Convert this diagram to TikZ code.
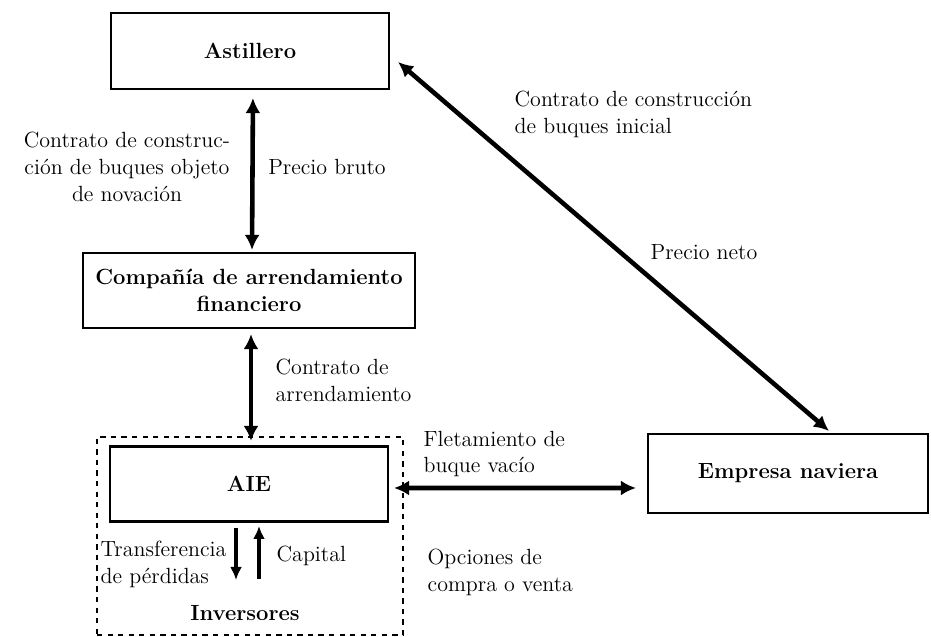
\documentclass[tikz,border=0pt]{standalone}
\usepackage{fontspec}
\usetikzlibrary{arrows.meta}

\tikzset{
    party/.style={draw, line width=1.2pt, font=\fontsize{12.5}{15.3}\selectfont\bfseries, align=center, inner sep=0pt},
    lbl/.style={font=\fontsize{12.5}{15.3}\selectfont, inner sep=0pt},
    twoway/.style={{Latex[length=0.3cm,width=0.3cm]}-{Latex[length=0.3cm,width=0.3cm]}, line width=2.6pt},
    oneway/.style={-{Latex[length=0.26cm,width=0.24cm]}, line width=2.1pt}
}

\begin{document}
\begin{tikzpicture}[style=thick, every node/.style={font=\fontsize{12.5}{15.3}\selectfont}]
        \useasboundingbox (0cm,0cm) rectangle (18.62cm,12.74cm);

        % parties
        \node[party, minimum width=5.56cm, minimum height=1.52cm] (ast) at (5cm,11.72cm) {Astillero};
        \node[party, minimum width=6.64cm, minimum height=1.5cm] (comp) at (4.98cm,6.93cm) {Compañía de arrendamiento\\financiero};
        \node[draw, dashed, line width=1.1pt, minimum width=6.12cm, minimum height=3.96cm] (inv) at (5cm,2.02cm) {};
        \node[party, minimum width=5.56cm, minimum height=1.5cm] (aie) at (4.98cm,3.06cm) {AIE};
        \node[party, minimum width=5.6cm, minimum height=1.58cm] (emp) at (15.76cm,3.27cm) {Empresa naviera};
        \node[font=\fontsize{12.5}{15.3}\selectfont\bfseries] (invname) at (4.9cm,0.48cm) {Inversores};

        % flows
        \draw[twoway, shorten <=0.16cm, shorten >=0.04cm] ([xshift=0.06cm]ast.south) -- ([xshift=0.06cm]comp.north);
        \draw[twoway, shorten <=0.1cm, shorten >=0.09cm] ([xshift=0.04cm]comp.south) -- ([xshift=0.04cm]aie.north);
        \draw[twoway] ([shift={(0.16cm,-0.22cm)}]ast.east) -- ([shift={(0.82cm,0.04cm)}]emp.north);
        \draw[twoway] ([shift={(0.1cm,-0.08cm)}]aie.east) -- ([shift={(-0.22cm,-0.29cm)}]emp.west);

        \coordinate (lossA) at (4.72cm,2.18cm);
        \coordinate (lossB) at (4.72cm,1.14cm);
        \coordinate (capA) at (5.18cm,1.16cm);
        \coordinate (capB) at (5.18cm,2.22cm);
        \draw[oneway] (lossA) -- (lossB);
        \draw[oneway] (capA) -- (capB);

        % labels
        \node[lbl, align=center] (novlbl) at (2.54cm,9.4cm) {Contrato de construc-\\ción de buques objeto\\de novación};
        \node[lbl] (brutolbl) at (6.54cm,9.4cm) {Precio bruto};
        \node[lbl, anchor=west, align=left] (arrlbl) at (5.5cm,5.14cm) {Contrato de\\arrendamiento};
        \node[lbl, anchor=west, align=left] (inilbl) at (10.28cm,10.46cm) {Contrato de construcción\\de buques inicial};
        \node[lbl, anchor=west] (netolbl) at (13cm,7.7cm) {Precio neto};
        \node[lbl, anchor=west, align=left] (fletlbl) at (8.46cm,3.66cm) {Fletamiento de\\buque vacío};
        \node[lbl, anchor=west, align=left] (opclbl) at (8.54cm,1.3cm) {Opciones de\\compra o venta};
        \node[lbl, anchor=west, align=left] (trflbl) at (2cm,1.46cm) {Transferencia\\de pérdidas};
        \node[lbl, anchor=west] (caplbl) at (5.52cm,1.62cm) {Capital};
\end{tikzpicture}
\end{document}
